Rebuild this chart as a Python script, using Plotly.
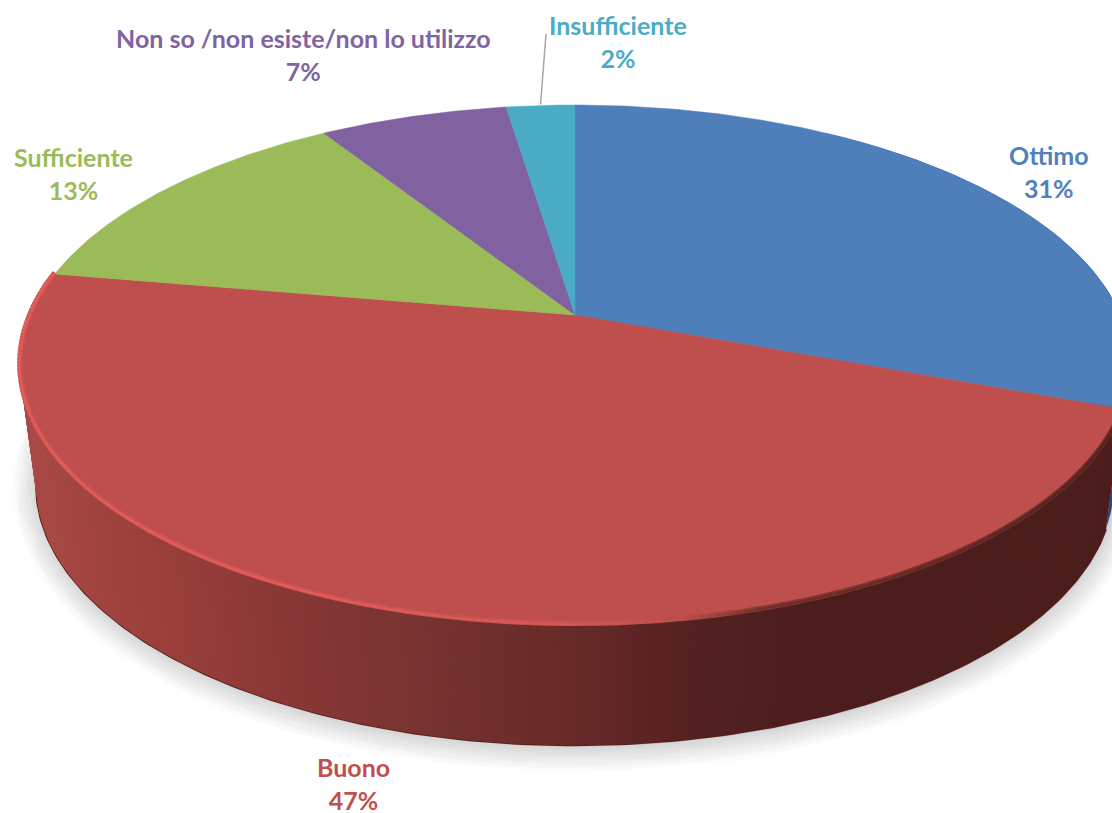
import numpy as np
import plotly.graph_objects as go

categories = ["Ottimo", "Buono", "Sufficiente", "Non so /non esiste/non lo utilizzo", "Insufficiente"]
values = [30.7, 47.0, 13.3, 6.6, 2.4]
top_colors = ["#4E7FBB", "#BE4F4C", "#9BBB59", "#8062A0", "#4AABC5"]
label_colors = ["#4F81BD", "#C0504D", "#9BBB59", "#8064A2", "#4BACC6"]
label_xy = [(1049, 171.5), (353, 783.5), (73, 173.5), (303, 54.5), (618, 41.5)]

W, H = 1112, 813
CX, CY, R = 575, 315, 545
A, B = 189.8, -0.1923
DEPTH, SHRINK = 120, 0.97


def top(theta):
    x, y = np.sin(theta), -np.cos(theta)
    d = 1 + B * y
    return CX + R * x / d, (CY + A * y) / d


def bottom(theta):
    X, Y = top(theta)
    return CX + SHRINK * (X - CX), Y + DEPTH


def lerp_stops(x, stops):
    xs = [s[0] for s in stops]
    return [float(np.interp(x, xs, [s[1][i] for s in stops])) for i in range(3)]


def rgb(c):
    return "rgb(%d,%d,%d)" % tuple(int(round(v)) for v in c)


RED_WALL = [(20, (168, 74, 70)), (150, (155, 63, 59)), (300, (135, 55, 52)), (450, (116, 50, 47)),
            (575, (104, 42, 40)), (700, (84, 33, 33)), (830, (75, 29, 28)), (1112, (75, 30, 28))]
RIM = [(20, (226, 92, 90)), (300, (226, 92, 90)), (560, (214, 88, 85)), (680, (190, 79, 76)),
       (760, (110, 46, 43)), (1112, (84, 34, 32))]
RIM_SOFT = [(20, (208, 85, 82)), (300, (208, 85, 82)), (560, (204, 84, 81)), (680, (190, 79, 76)),
            (760, (135, 56, 52)), (1112, (105, 43, 40))]

fig = go.Figure()


def poly(xs, ys, fill, line=None, width=0):
    fig.add_trace(go.Scatter(x=list(xs), y=list(ys), mode="lines", fill="toself", fillcolor=fill,
                             line=dict(color=line or fill, width=width), hoverinfo="skip", showlegend=False))


total = sum(values)
cum = np.cumsum([0] + values) / total * 2 * np.pi
full = np.linspace(0, 2 * np.pi, 361)

# soft shadow under the body
bx, by = bottom(full)
for w in range(52, 0, -4):
    poly(bx + 1, by + 2, "rgba(0,0,0,0.011)", "rgba(0,0,0,0.011)", w)

# bottom contour line, half hidden by the wall
front = np.linspace(cum[1], cum[2], 220)
bx, by = bottom(front)
fig.add_trace(go.Scatter(x=bx, y=by, mode="lines", line=dict(color="#5A1F1E", width=2.4),
                         hoverinfo="skip", showlegend=False))

# side wall, painted with overlap so that no seams show
blue_t = np.linspace(np.pi * 0.25, cum[1], 60)
tx, ty = top(blue_t)
bx, by = bottom(blue_t)
poly(np.r_[tx, bx[::-1]], np.r_[ty, by[::-1]], "#234A6E")
for i in range(len(front) - 1):
    t = front[i:i + 4]
    tx, ty = top(t)
    bx, by = bottom(t)
    col = rgb(lerp_stops(tx[0], RED_WALL))
    poly(np.r_[tx, bx[::-1]], np.r_[ty, by[::-1]], col)

# dark edge of the blue slice
x, y = top(np.linspace(np.pi * 0.18, cum[1], 50))
fig.add_trace(go.Scatter(x=x, y=y + 1, mode="lines", line=dict(color="#2F5D8A", width=2),
                         hoverinfo="skip", showlegend=False))

# top face slices
for i, (cat, col) in enumerate(zip(categories, top_colors)):
    t = np.linspace(cum[i], cum[i + 1], max(4, int(values[i] * 6)))
    x, y = top(t)
    poly(np.r_[CX, x, CX], np.r_[CY, y, CY], col, col, 0.5)

# bevel highlight on the rim: wide soft pass, then a narrow bright pass
for stops, width, off in [(RIM_SOFT, 5, -1.5), (RIM, 2.2, -1)]:
    for i in range(len(front) - 1):
        x, y = top(front[i:i + 2])
        fig.add_trace(go.Scatter(x=x, y=y + off, mode="lines",
                                 line=dict(color=rgb(lerp_stops(x.mean(), stops)), width=width),
                                 hoverinfo="skip", showlegend=False))

# leader line for the smallest slice
mx, my = top(np.array([(cum[4] + cum[5]) / 2]))
shapes = [dict(type="line", x0=float(mx[0]), y0=float(my[0]) - 1, x1=546, y1=34,
               line=dict(color="#A6A6A6", width=1.5))]

annotations = []
for cat, v, col, (lx, ly) in zip(categories, values, label_colors, label_xy):
    annotations.append(dict(x=lx, y=ly, xref="x", yref="y", showarrow=False, align="center",
                            text="<b>%s<br>%d%%</b>" % (cat, round(v / total * 100)),
                            font=dict(family="Lato", size=25, color=col)))

fig.update_layout(width=W, height=H, margin=dict(l=0, r=0, t=0, b=0), autosize=False,
                  paper_bgcolor="white", plot_bgcolor="white", showlegend=False,
                  shapes=shapes, annotations=annotations,
                  xaxis=dict(range=[0, W], visible=False),
                  yaxis=dict(range=[H, 0], visible=False))
fig.write_html("out.html", config=dict(displayModeBar=False),
               post_script="document.body.style.margin='0';document.body.style.overflow='hidden';")
